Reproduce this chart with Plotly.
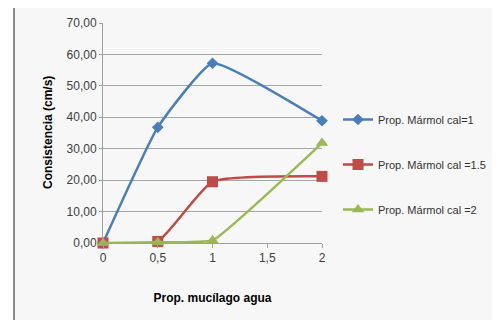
import plotly.graph_objects as go

categories = ["0", "0,5", "1", "1,5", "2"]
x_idx = [0, 1, 2, 4]
blue_vals = [0.0, 36.8, 57.2, 38.9]
red_vals = [0.0, 0.5, 19.5, 21.2]
green_vals = [0.0, 0.2, 0.8, 31.8]
series_names = ["Prop. Mármol cal=1", "Prop. Mármol cal =1.5", "Prop. Mármol cal =2"]
colors = ["#4a7ebb", "#be4b48", "#98b954"]
symbols = ["diamond", "square", "triangle-up"]
marker_sizes = [9, 11, 11]
smooth = [0.4, 0.45, 0.3]
x_title = "Prop. mucílago agua"
y_title = "Consistencia (cm/s)"

OFF = 8  # page body margin
W, H = 500 - OFF, 320 - OFF
L, T = 103 - OFF, 23 - OFF
R = W - (322 - OFF)
B = H - (243 - OFF)
pw, ph = W - L - R, H - T - B

fig = go.Figure()
for i, vals in enumerate([blue_vals, red_vals, green_vals]):
    fig.add_trace(go.Scatter(
        x=x_idx, y=vals, name=series_names[i], mode="lines+markers",
        line=dict(color=colors[i], width=2.5, shape="spline", smoothing=smooth[i]),
        marker=dict(symbol=symbols[i], size=marker_sizes[i], color=colors[i]),
        cliponaxis=False, legendgroup=str(i),
    ))

def px_x(p):
    return (p - OFF - L) / pw

def px_y(p):
    return (H - B - (p - OFF)) / ph

fig.add_shape(type="rect", xref="paper", yref="paper",
              x0=px_x(14), x1=px_x(520), y0=px_y(6.5), y1=px_y(330),
              line=dict(color="#8c8c8c", width=2), fillcolor="#f7f7f7", layer="below")

fig.add_annotation(text="<b>" + y_title + "</b>", textangle=-90, showarrow=False,
                   xref="paper", yref="paper", x=px_x(48), y=px_y(133),
                   xanchor="center", yanchor="middle",
                   font=dict(size=12, color="#000000"))

fig.update_layout(
    width=W, height=H,
    margin=dict(l=L, r=R, t=T, b=B, autoexpand=False),
    paper_bgcolor="white", plot_bgcolor="rgba(0,0,0,0)",
    separators=",.",
    font=dict(family="Liberation Sans, Arial, sans-serif", size=12, color="#404040"),
    showlegend=True,
    legend=dict(x=px_x(338), y=px_y(105), xanchor="left", yanchor="top",
                bgcolor="rgba(0,0,0,0)", tracegroupgap=26,
                font=dict(size=11, color="#333333"), itemwidth=30),
    xaxis=dict(range=[0, 4], tickmode="array", tickvals=list(range(len(categories))),
               ticktext=categories, showgrid=False, zeroline=False,
               showline=True, linecolor="#a0a0a0", linewidth=1,
               ticks="outside", ticklen=4, tickcolor="#a0a0a0",
               tickfont=dict(size=12, color="#404040"),
               title=dict(text="<b>" + x_title + "</b>", standoff=29,
                          font=dict(size=12, color="#000000"))),
    yaxis=dict(range=[0, 70], dtick=10, tickformat=".2f",
               showgrid=True, gridcolor="#a6a6a6", gridwidth=1, zeroline=False,
               showline=True, linecolor="#a0a0a0", linewidth=1,
               ticks="outside", ticklen=3, tickcolor="#a0a0a0",
               tickfont=dict(size=12, color="#404040")),
)

fig.write_html("out.html")
